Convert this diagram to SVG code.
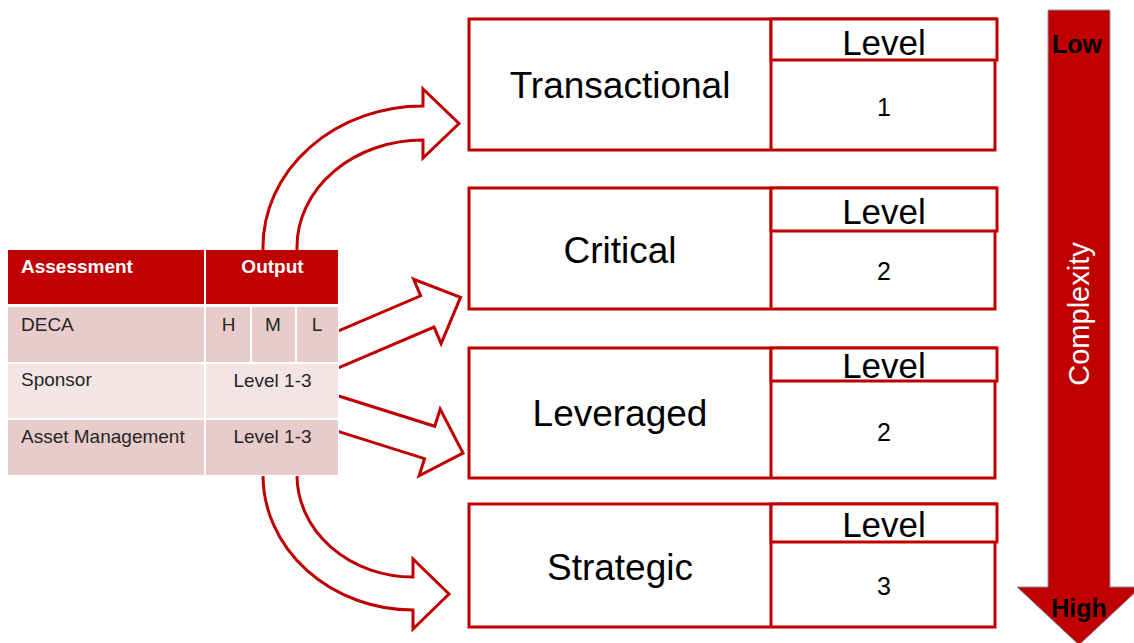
<svg xmlns="http://www.w3.org/2000/svg" width="1134" height="643" viewBox="0 0 1134 643">
  <style>
    .box { fill: #ffffff; stroke: #C00000; stroke-width: 3; }
    .div { stroke: #C00000; stroke-width: 3; }
    .conn { fill: #ffffff; stroke: #C00000; stroke-width: 3; stroke-linejoin: miter; }
    .name { font-family: "Liberation Sans", Arial, sans-serif; font-size: 37px; fill: #000000; text-anchor: middle; }
    .lvl { font-family: "Liberation Sans", Arial, sans-serif; font-size: 35px; fill: #000000; text-anchor: middle; }
    .num { font-family: "Liberation Sans", Arial, sans-serif; font-size: 25px; fill: #000000; text-anchor: middle; }
    .th { font-family: "Liberation Sans", Arial, sans-serif; font-size: 19px; font-weight: bold; fill: #ffffff; }
    .td { font-family: "Liberation Sans", Arial, sans-serif; font-size: 19px; fill: #262626; }
    .mid { text-anchor: middle; }
    .hdr { fill: #C00000; }
    .rowA { fill: #E8CBCB; }
    .rowB { fill: #F3E5E5; }
    .scale { font-family: "Liberation Sans", Arial, sans-serif; font-size: 25px; font-weight: bold; fill: #000000; text-anchor: middle; }
  </style>

  <rect width="1134" height="643" fill="#ffffff"/>

  <!-- Connectors: outlined block arrows from the assessment table to the categories -->
  <g id="connectors">
    <!-- curved arrow up to Transactional -->
    <path class="conn" d="M263,258 L263,247 A160,141 0 0 1 423,106 L423,89 L459,123.5 L423,158 L423,140 A126,107 0 0 0 297,247 L297,258 Z"/>
    <!-- straight arrow to Critical -->
    <path class="conn" transform="translate(340,348.7) rotate(-23.1)" d="M-30,-17 L95,-17 L95,-35 L131,0 L95,35 L95,17 L-30,17 Z"/>
    <!-- straight arrow to Leveraged -->
    <path class="conn" transform="translate(340,414.2) rotate(17.5)" d="M-30,-17 L94,-17 L94,-35 L129,0 L94,35 L94,17 L-30,17 Z"/>
    <!-- curved arrow down to Strategic -->
    <path class="conn" d="M263,465 L263,475 A150,135 0 0 0 413,610 L413,629 L449,594 L413,559 L413,577 A116,102 0 0 1 297,475 L297,465 Z"/>
  </g>

  <!-- Assessment table -->
  <g id="assessment-table">
    <rect x="8" y="250" width="331" height="226" fill="#ffffff"/>
    <rect class="hdr" x="8" y="250" width="196" height="54"/>
    <rect class="hdr" x="206" y="250" width="132" height="54"/>
    <rect class="rowA" x="8" y="307" width="196" height="55"/>
    <rect class="rowA" x="206" y="307" width="44" height="55"/>
    <rect class="rowA" x="252" y="307" width="43" height="55"/>
    <rect class="rowA" x="297" y="307" width="41" height="55"/>
    <rect class="rowB" x="8" y="364" width="196" height="54"/>
    <rect class="rowB" x="206" y="364" width="132" height="54"/>
    <rect class="rowA" x="8" y="420" width="196" height="55"/>
    <rect class="rowA" x="206" y="420" width="132" height="55"/>
    <text class="th" x="21" y="273">Assessment</text>
    <text class="th mid" x="272.5" y="273">Output</text>
    <text class="td" x="21" y="331">DECA</text>
    <text class="td mid" x="228.5" y="331">H</text>
    <text class="td mid" x="273" y="331">M</text>
    <text class="td mid" x="317" y="331">L</text>
    <text class="td" x="21" y="386">Sponsor</text>
    <text class="td mid" x="272.5" y="387">Level 1-3</text>
    <text class="td" x="21" y="443">Asset Management</text>
    <text class="td mid" x="272.5" y="443">Level 1-3</text>
  </g>

  <!-- Category boxes -->
  <g id="transactional">
    <rect class="box" x="469" y="19" width="526" height="131"/>
    <line class="div" x1="771" y1="19" x2="771" y2="150"/>
    <rect class="box" x="771" y="19" width="226" height="41"/>
    <text class="name" x="620" y="98">Transactional</text>
    <text class="lvl" x="884" y="55">Level</text>
    <text class="num" x="884" y="116">1</text>
  </g>

  <g id="critical">
    <rect class="box" x="469" y="188" width="526" height="121"/>
    <line class="div" x1="771" y1="188" x2="771" y2="309"/>
    <rect class="box" x="771" y="188" width="226" height="43"/>
    <text class="name" x="620" y="263">Critical</text>
    <text class="lvl" x="884" y="224">Level</text>
    <text class="num" x="884" y="280">2</text>
  </g>

  <g id="leveraged">
    <rect class="box" x="469" y="348" width="526" height="130"/>
    <line class="div" x1="771" y1="348" x2="771" y2="478"/>
    <rect class="box" x="771" y="348" width="226" height="33"/>
    <text class="name" x="620" y="426">Leveraged</text>
    <text class="lvl" x="884" y="378">Level</text>
    <text class="num" x="884" y="441">2</text>
  </g>

  <g id="strategic">
    <rect class="box" x="469" y="504" width="526" height="123"/>
    <line class="div" x1="771" y1="504" x2="771" y2="627"/>
    <rect class="box" x="771" y="504" width="226" height="38"/>
    <text class="name" x="620" y="580">Strategic</text>
    <text class="lvl" x="884" y="537">Level</text>
    <text class="num" x="884" y="595">3</text>
  </g>

  <!-- Complexity scale arrow -->
  <g id="complexity">
    <path d="M1048,10 L1110,10 L1110,587 L1141,587 L1079,645 L1017,587 L1048,587 Z" fill="#C00000" stroke="#8497B0" stroke-width="1"/>
    <text class="scale" x="1077" y="53">Low</text>
    <text class="scale" x="1079" y="617">High</text>
    <text transform="translate(1089,314) rotate(-90)" font-family="'Liberation Sans', Arial, sans-serif" font-size="29" fill="#ffffff" text-anchor="middle">Complexity</text>
  </g>
</svg>
